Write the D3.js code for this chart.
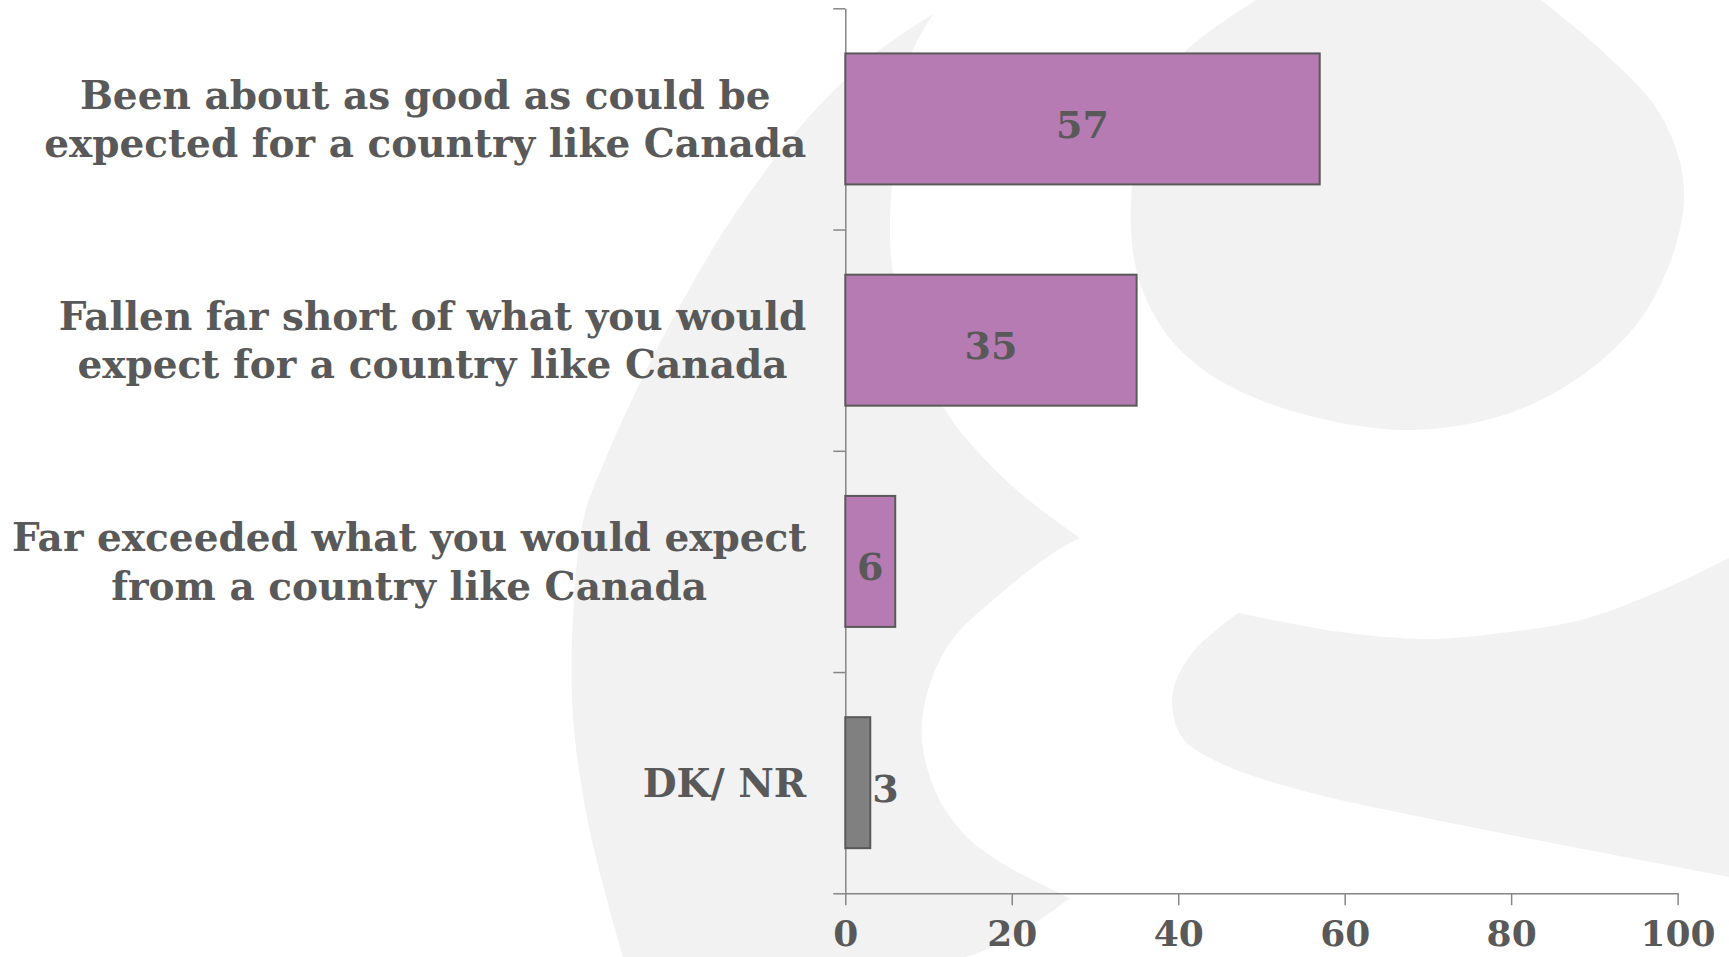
<!DOCTYPE html>
<html>
<head>
<meta charset="utf-8">
<script src="https://cdn.jsdelivr.net/npm/d3@7"></script>
<style>
  html, body { margin: 0; padding: 0; background: #ffffff; }
  svg { display: block; }
</style>
</head>
<body>
<svg id="chart" width="1729" height="957"></svg>
<script>
// Survey responses (percent)
const categories = [
  "Been about as good as could be expected for a country like Canada",
  "Fallen far short of what you would expect for a country like Canada",
  "Far exceeded what you would expect from a country like Canada",
  "DK/ NR"
];
const categoryLines = [
  ["Been about as good as could be", "expected for a country like Canada"],
  ["Fallen far short of what you would", "expect for a country like Canada"],
  ["Far exceeded what you would expect", "from a country like Canada"],
  ["DK/ NR"]
];
const values = [57, 35, 6, 3];
const xTicks = [0, 20, 40, 60, 80, 100];
const noAnswerCategory = "DK/ NR";

// Styling
const W = 1729, H = 957;
const TEXT = "#595959";
const AXIS = "#868686";
const FILL_MAIN = "#b67bb3";
const FILL_NA = "#808080";
const FONT = "'DejaVu Serif', Georgia, serif";

const svg = d3.select("#chart");

// Background watermark (large light-grey letterform)
const wmRuns = [
  // left crescent
  [
    [[933,14],[867,60],[800,127],[733,217],[683,300],[640,383],[605,460],[584,517],[573,617],[573,717],[587,817],[607,900],[623,957]],
    [[623,957],[965,957],[1070,898]],
    [[1070,898],[1000,862],[965,835],[937,795],[922,740],[928,690],[952,640],[993,600],[1053,553],[1080,538]],
    [[1080,538],[1020,493],[970,443],[945,410],[910,345],[893,273],[890,233],[892,183],[900,100],[913,50],[933,14]]
  ],
  // upper bowl
  [
    [[1256,0],[1180,57],[1148,117],[1131,200],[1140,283],[1180,350],[1260,400],[1413,430],[1541,400],[1642,317],[1684,200],[1662,117],[1601,50],[1541,0]],
    [[1541,0],[1256,0]]
  ],
  // lower tail
  [
    [[1729,558],[1662,590],[1581,620],[1501,633],[1429,639],[1341,632],[1238,613]],
    [[1238,613],[1220,627],[1192,653],[1174,687],[1173,713],[1184,740],[1220,763],[1300,790],[1421,817],[1729,877]],
    [[1729,877],[1729,558]]
  ]
];

function runsPath(runs) {
  let d = "";
  runs.forEach((pts, i) => {
    const gen = pts.length > 2 ? d3.line().curve(d3.curveCatmullRom.alpha(0.5)) : d3.line();
    const seg = gen(pts);
    d += i === 0 ? seg : seg.replace(/^M/, "L");
  });
  return d + "Z";
}

svg.append("g").attr("class", "watermark")
  .selectAll("path").data(wmRuns).join("path")
  .attr("d", runsPath)
  .attr("fill", "#f2f2f2");

// Scales
const x = d3.scaleLinear().domain([0, 100]).range([845.3, 1677.6]);
const y = d3.scaleBand().domain(categories).range([8.3, 893.3])
  .paddingInner(0.408).paddingOuter(0.204);
const yEdges = d3.scaleLinear().domain([0, categories.length]).range([8.3, 893.3]);

// Category axis: line with ticks at category boundaries
const yAxis = svg.append("g").attr("transform", `translate(${x(0)},0)`)
  .call(d3.axisLeft(yEdges).tickValues(d3.range(categories.length + 1))
    .tickSize(12).tickSizeOuter(0).tickFormat(""));
yAxis.selectAll("path, line").attr("stroke", AXIS).attr("stroke-width", 1.5);

// Value axis
const xAxis = svg.append("g").attr("transform", `translate(0,${yEdges(categories.length)})`)
  .call(d3.axisBottom(x).tickValues(xTicks).tickSize(12).tickSizeOuter(0));
xAxis.select(".domain").attr("stroke", AXIS).attr("stroke-width", 1.5);
xAxis.selectAll(".tick line").attr("stroke", AXIS).attr("stroke-width", 1.5);
xAxis.selectAll(".tick text")
  .attr("y", 53).attr("dy", 0)
  .attr("fill", TEXT)
  .style("font-family", FONT).style("font-weight", "bold").style("font-size", "36px");

// Bars
const rows = categories.map((c, i) => ({ cat: c, value: values[i], lines: categoryLines[i] }));

svg.append("g").selectAll("rect").data(rows).join("rect")
  .attr("x", x(0))
  .attr("y", d => y(d.cat))
  .attr("width", d => x(d.value) - x(0))
  .attr("height", y.bandwidth())
  .attr("fill", d => d.cat === noAnswerCategory ? FILL_NA : FILL_MAIN)
  .attr("stroke", TEXT)
  .attr("stroke-width", 2);

// Value labels
svg.append("g").selectAll("text").data(rows).join("text")
  .each(function(d) {
    const w = x(d.value) - x(0);
    const inside = w > 40;
    d3.select(this)
      .attr("x", inside ? x(d.value / 2) : x(d.value) + 2)
      .attr("text-anchor", inside ? "middle" : "start");
  })
  .attr("y", d => y(d.cat) + y.bandwidth() / 2 + 19)
  .attr("fill", TEXT)
  .style("font-family", FONT).style("font-weight", "bold").style("font-size", "38px")
  .text(d => d.value);

// Category labels: lines centred within a block whose right edge sits left of the axis
const labelRight = x(0) - 39;
const lineStep = 48.5;
const labelG = svg.append("g");
rows.forEach(d => {
  const cy = y(d.cat) + y.bandwidth() / 2;
  const n = d.lines.length;
  const texts = d.lines.map((line, i) =>
    labelG.append("text")
      .attr("y", cy + 14 + (i - (n - 1) / 2) * lineStep)
      .attr("text-anchor", "middle")
      .attr("fill", TEXT)
      .style("font-family", FONT).style("font-weight", "bold").style("font-size", "39px")
      .text(line));
  const maxW = d3.max(texts, t => t.node().getComputedTextLength());
  texts.forEach(t => t.attr("x", labelRight - maxW / 2));
});
</script>
</body>
</html>
